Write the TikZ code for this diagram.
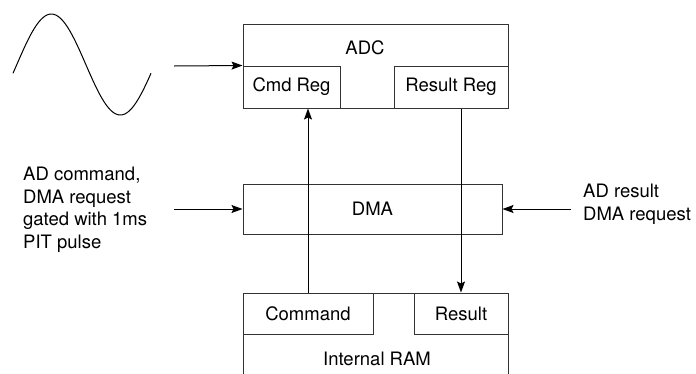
\documentclass[tikz,border=0pt]{standalone}
\usepackage{fontspec}
\setmainfont{TeX Gyre Heros}
\usetikzlibrary{arrows.meta}
\tikzset{
  blk/.style={draw=black!80, line width=1pt, fill=white, inner sep=0pt},
  sig/.style={-{Stealth[length=11pt,width=8pt,inset=2pt]}, line width=1pt},
  txt/.style={inner sep=0pt, align=left, anchor=west},
}

\begin{document}
\begin{tikzpicture}[x=1pt,y=-1pt,font=\fontsize{18.5}{22.5}\selectfont]
\useasboundingbox (0,0) rectangle (696,373);
\draw[line width=1pt] plot[domain=-10:350, samples=80] ({13+(\x+10)/360*138}, {64.5-50.5*sin(\x)});
\node[blk, minimum width=265pt, minimum height=84pt] (adc) at (375.5,66) {};
\node (adclabel) at (365,48) {ADC};
\node[blk, minimum width=97pt, minimum height=42pt] (cmdreg) at (291.5,87) {Cmd Reg};
\node[blk, minimum width=114pt, minimum height=42pt] (resreg) at (451,87) {Result Reg};
\node[blk, minimum width=259pt, minimum height=50pt] (dma) at (372.5,209) {DMA};
\node[blk, minimum width=265pt, minimum height=82pt] (ram) at (375.5,334) {};
\node (ramlabel) at (377,359) {Internal RAM};
\node[blk, minimum width=130pt, minimum height=41pt] (command) at (308,313.5) {Command};
\node[blk, minimum width=94pt, minimum height=41pt] (result) at (461,313.5) {Result};
\node[txt] (cmdtext) at (23,210) {AD command,\\DMA request\\gated with 1ms\\PIT pulse};
\node[txt] (restext) at (583,204.5) {AD result\\DMA request};
\coordinate (wavesrc) at (174,66);
\coordinate (cmdsrc) at (174,209);
\coordinate (ressrc) at (571,209);
\draw[sig] (wavesrc) -- (cmdreg.north west);
\draw[sig] (cmdsrc) -- (dma.west);
\draw[sig] (ressrc) -- (dma.east);
\draw[sig] (command.north) -- (command.north |- cmdreg.south);
\draw[sig] (resreg.south -| result.north) -- (result.north);
\end{tikzpicture}
\end{document}
